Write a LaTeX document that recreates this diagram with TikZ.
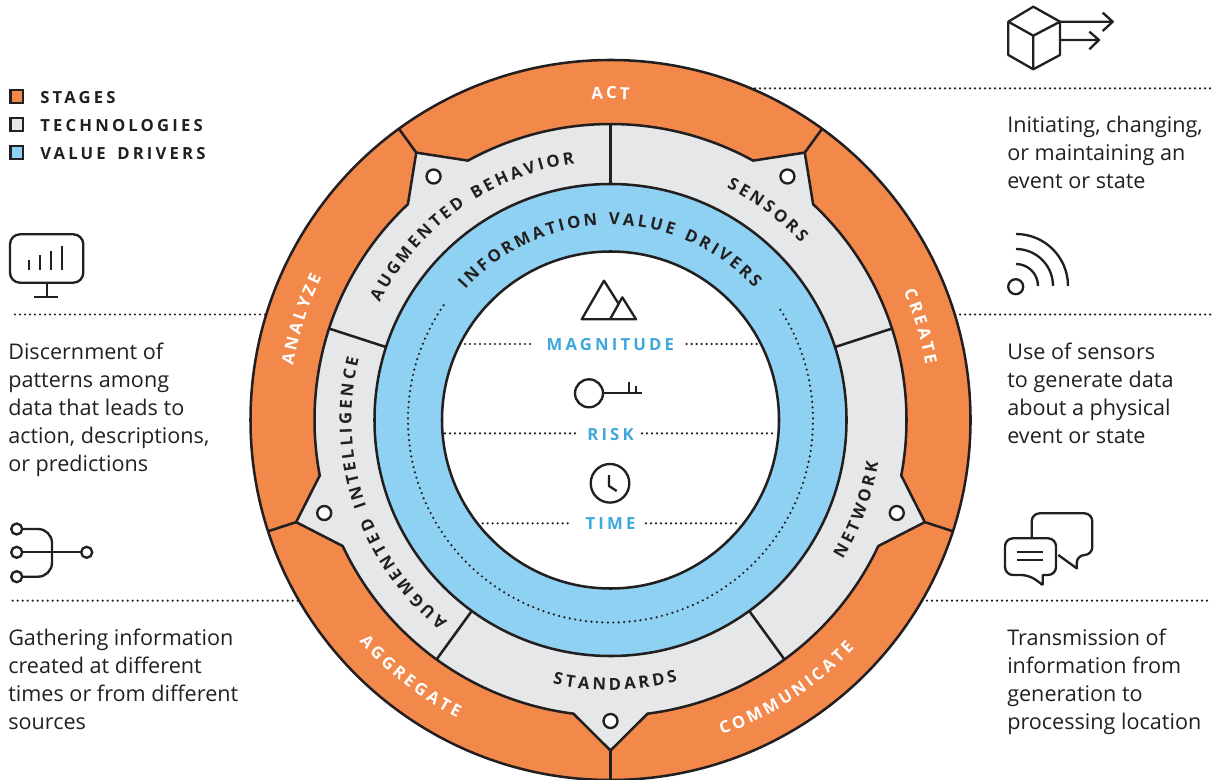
\documentclass[tikz,border=0pt]{standalone}
\usepackage{fontspec}
\setmainfont{Open Sans}
\newfontfamily\lblfam[LetterSpace=19]{Open Sans}
\newfontfamily\arcfam{Open Sans}
\newcommand{\lblf}{\fontsize{12.5}{15}\lblfam\bfseries}
\newcommand{\arcf}{\fontsize{12.5}{15}\arcfam\bfseries}
\newcommand{\bodyf}{\fontsize{16.2}{20.9}\selectfont}
\definecolor{ink}{HTML}{231F20}
\definecolor{stageC}{HTML}{F2894B}
\definecolor{techC}{HTML}{E6E7E9}
\definecolor{valueC}{HTML}{8ED1F2}
\definecolor{labelC}{HTML}{3EA7DC}
\tikzset{
  ln/.style={draw=ink,line width=1.9pt,line join=miter},
  icon/.style={draw=ink,line width=1.75pt,line join=round,fill=none},
  dots/.style={draw=ink,line width=1.85pt,line cap=round,dash pattern=on 0pt off 3.75pt},
  ringdots/.style={draw=ink,line width=1.85pt,line cap=round,dash pattern=on 0pt off 4.1pt},
  body/.style={font=\bodyf,text=ink,align=left,anchor=north west,inner sep=0pt},
  legendtxt/.style={font=\lblf,text=ink,anchor=west,inner sep=0pt},
  drvtxt/.style={font=\lblf,text=labelC,inner sep=0pt},
  legendbox/.style={draw=ink,line width=1.9pt,minimum size=9.6pt,inner sep=0pt},
  pin/.style={draw=ink,line width=1.75pt,fill=white},
  arcch/.style={font=\arcf,inner sep=0pt,anchor=base}
}
\newdimen\rtot
\newdimen\rpos
\newdimen\rwid
\newbox\rbox
\newcommand{\rgap}{\kern4pt}
\newcommand{\rmeasure}[1]{\setbox\rbox=\hbox{\pgfinterruptpicture\arcf#1\endpgfinterruptpicture}}
% colour, baseline radius, centre angle, direction (1 clockwise, -1 counter), tracking in pt, comma list of letters
\newcommand{\arclabel}[6]{%
  \global\rtot=0pt
  \foreach \ch in {#6} {\rmeasure{\ch}\global\advance\rtot by \wd\rbox \global\advance\rtot by #5pt}
  \global\advance\rtot by -#5pt
  \global\rpos=0pt
  \foreach \ch in {#6} {%
    \rmeasure{\ch}%
    \global\rwid=\wd\rbox
    \edef\rA{\fpeval{round(#3-(#4)*((\rpos+0.5*\rwid-0.5*\rtot)/(0.75*#2))*57.29578,3)}}%
    \edef\rR{\fpeval{round(\rA-(#4)*90,3)}}%
    \global\advance\rpos by \rwid \global\advance\rpos by #5pt
    \node[arcch,text=#1,rotate=\rR] at (\rA:#2) {\ch};
  }%
}
\begin{document}
\begin{tikzpicture}[x=0.75pt,y=-0.75pt]
\useasboundingbox (0,0) rectangle (1219,780);
% leader lines
\draw[dots] (755,88.3) -- (1212,88.3);
\draw[dots] (15,314.5) -- (270,314.5);
\draw[dots] (955,314.5) -- (1212,314.5);
\draw[dots] (12.7,600.7) -- (300,600.7);
\draw[dots] (922,600.7) -- (1212,600.7);
% rings
\begin{scope}[shift={(610.5,420)},y=0.75pt]
  \draw[ln,fill=stageC] (0,0) circle[radius=360];
  \draw[ln,fill=techC]
    (118.8:296) arc[start angle=118.8,end angle=61.2,radius=296] -- (54:330.5)
    -- (46.8:296) arc[start angle=46.8,end angle=-10.8,radius=296] -- (-18:330.5)
    -- (-25.2:296) arc[start angle=-25.2,end angle=-82.8,radius=296] -- (-90:330.5)
    -- (-97.2:296) arc[start angle=-97.2,end angle=-154.8,radius=296] -- (198:330.5)
    -- (190.8:296) arc[start angle=190.8,end angle=133.2,radius=296] -- (126:330.5) -- cycle;
  \foreach \a in {126,54,-18,-90,198} {
    \draw[ln] (\a:330.5) -- (\a:360);
    \draw[pin] (\a:301) circle[radius=7];
  }
  \foreach \a in {90,18,-54,-126,162} \draw[ln] (\a:236) -- (\a:296);
  \draw[ln,fill=valueC] (0,0) circle[radius=236];
  \draw[ln,fill=white] (0,0) circle[radius=168.5];
  \draw[ringdots] (145.5:202.5) arc[start angle=145.5,end angle=394.5,radius=202.5];
  % stage labels
  \arclabel{white}{321}{90}{1}{2.2}{A,C,T}
  \arclabel{white}{322}{162}{1}{2.2}{A,N,A,L,Y,Z,E}
  \arclabel{white}{320}{16.8}{1}{2.2}{C,R,E,A,T,E}
  \arclabel{white}{335}{232.1}{-1}{2.5}{A,G,G,R,E,G,A,T,E}
  \arclabel{white}{334}{-56.8}{-1}{2.4}{C,O,M,M,U,N,I,C,A,T,E}
  % technology labels
  \arclabel{ink}{259}{125.5}{1}{2.3}{A,U,G,M,E,N,T,E,D,\rgap,B,E,H,A,V,I,O,R}
  \arclabel{ink}{260}{53.2}{1}{2.3}{S,E,N,S,O,R,S}
  \arclabel{ink}{271}{-20}{-1}{2.5}{N,E,T,W,O,R,K}
  \arclabel{ink}{270}{-89}{-1}{2.4}{S,T,A,N,D,A,R,D,S}
  \arclabel{ink}{259}{198.6}{1}{2.3}{A,U,G,M,E,N,T,E,D,\rgap,I,N,T,E,L,L,I,G,E,N,C,E}
  % value label
  \arclabel{ink}{195}{90.3}{1}{2.2}{I,N,F,O,R,M,A,T,I,O,N,\rgap,V,A,L,U,E,\rgap,D,R,I,V,E,R,S}
\end{scope}
% legend
\node[legendbox,fill=stageC] (l1) at (16.7,96.5) {};
\node[legendbox,fill=techC] (l2) at (16.7,124.5) {};
\node[legendbox,fill=valueC] (l3) at (16.7,152.5) {};
\node[legendtxt] (t1) at (40,97.2) {STAGES};
\node[legendtxt] (t2) at (40,125.2) {TECHNOLOGIES};
\node[legendtxt] (t3) at (40,153.2) {VALUE\hspace{3pt} DRIVERS};
% body text
\node[body] (analyze) at (8,343) {Discernment of\\patterns among\\data that leads to\\action, descriptions,\\or predictions};
\node[body] (aggregate) at (8,629) {Gathering information\\created at different\\times or from different\\sources};
\node[body] (act) at (1007,116) {Initiating, changing,\\or maintaining an\\event or state};
\node[body] (create) at (1007,343) {Use of sensors\\to generate data\\about a physical\\event or state};
\node[body] (comm) at (1007,629) {Transmission of\\information from\\generation to\\processing location};
% centre
\node[drvtxt] (magn) at (610.3,344.7) {MAGNITUDE};
\node[drvtxt] (risk) at (610.5,434.2) {RISK};
\node[drvtxt] (time) at (610.5,523.7) {TIME};
\draw[dots] (465,344) -- (531.7,344);
\draw[dots] (686.7,344) -- (760,344);
\draw[dots] (445,433.3) -- (579,433.3);
\draw[dots] (642,433.3) -- (775,433.3);
\draw[dots] (482.7,523.3) -- (570.7,523.3);
\draw[dots] (646,523.3) -- (740,523.3);
% mountain
\draw[icon] (618.3,303.3) -- (604,280.7) -- (581.7,319.3) -- (636,319.3) -- (622.3,297.3) -- (610,319.3);
% key
\draw[icon] (589,393.3) circle[radius=14];
\draw[icon] (603,393.3) -- (642,393.3) (629.3,381.7) -- (629.3,393.3) (636,385.7) -- (636,393.3);
% clock
\draw[icon] (610,483.3) circle[radius=19.3];
\draw[icon] (609,475) -- (609,486) -- (616.7,491);
% monitor
\draw[icon,rounded corners=7.5pt] (10,234.3) rectangle (83.3,282.7);
\draw[icon] (46.7,282.7) -- (46.7,296.7) (34.3,296.7) -- (58.3,296.7);
\draw[icon] (29,260) -- (29,270) (40.3,255) -- (40.3,270) (51.3,250.7) -- (51.3,270) (62.3,245.7) -- (62.3,270);
% aggregate icon
\draw[icon] (16.7,529) circle[radius=5.5] (16.7,552.3) circle[radius=5.5] (16.7,576.7) circle[radius=5.5] (86.7,552.3) circle[radius=5.5];
\draw[icon] (22.2,552.3) -- (81.2,552.3);
\draw[icon,rounded corners=10.5pt] (22.2,529) -- (52,529) -- (52,576.7) -- (22.2,576.7);
% cube
\draw[icon] (1033.3,6.7) -- (1060,21.7) -- (1060,55) -- (1033.3,69.3) -- (1008.3,55) -- (1008.3,21.7) -- cycle;
\draw[icon] (1008.3,21.7) -- (1033.3,35.7) -- (1060,21.7) (1033.3,35.7) -- (1033.3,69.3);
\draw[icon] (1060,21.7) -- (1112.7,21.7) (1102.7,12.7) -- (1112.7,21.7) -- (1102.7,31);
\draw[icon] (1060,40) -- (1099,40) (1089.3,31.7) -- (1099,40) -- (1089.3,49.3);
% signal
\draw[icon] (1015.7,286.7) circle[radius=7.5];
\draw[icon] (1016,234) arc[start angle=-90,end angle=0,radius=52];
\draw[icon] (1016,249) arc[start angle=-90,end angle=0,radius=37];
\draw[icon] (1016,264) arc[start angle=-90,end angle=0,radius=22];
% chat
\draw[icon] (1031.7,538.3) [rounded corners=6pt] -- (1031.7,513.3) -- (1092.3,513.3) -- (1092.3,555) -- (1076.7,555) [sharp corners] -- (1076.7,568.3) -- (1058.3,555);
\draw[icon] (1042.7,585) -- (1042.7,575) -- (1048,575) [rounded corners=6pt] -- (1056,575) -- (1056,538.3) -- (1005,538.3) -- (1005,575) -- (1029.3,575) [sharp corners] -- (1042.7,585);
\draw[icon] (1016.7,551.7) -- (1042.7,551.7) (1016.7,560) -- (1042.7,560);
\end{tikzpicture}
\end{document}
